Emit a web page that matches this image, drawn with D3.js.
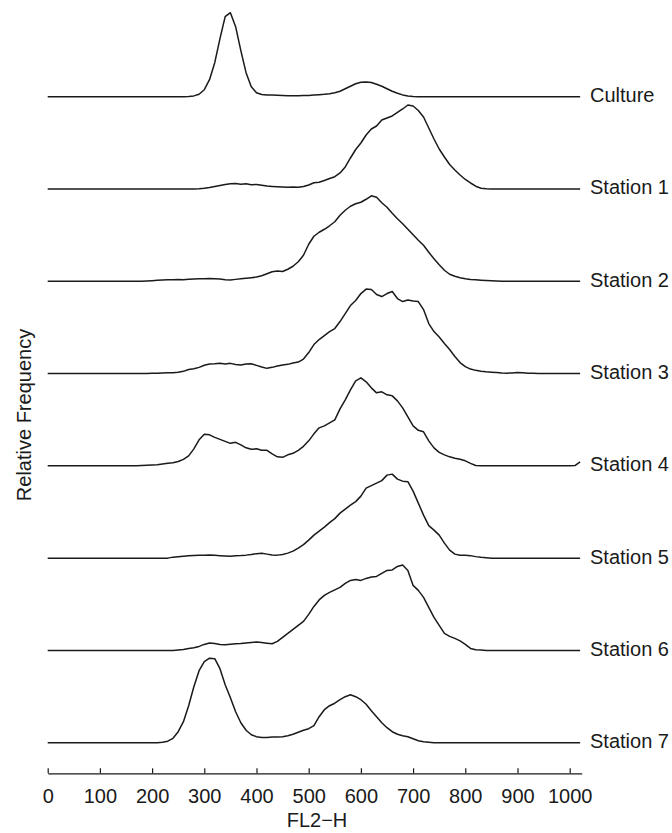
<!DOCTYPE html>
<html>
<head>
<meta charset="utf-8">
<script src="https://cdnjs.cloudflare.com/ajax/libs/d3/7.8.5/d3.min.js"></script>
<style>
  body { margin: 0; background: #fff; }
  svg { display: block; font-family: "Liberation Sans", Arial, Helvetica, sans-serif; }
</style>
</head>
<body>
<svg id="chart" width="672" height="833"></svg>
<script>
// FL2-H channel bins (step 10, 0..1020)
const bins = d3.range(0, 1021, 10);

const seriesNames = ['Culture', 'Station 1', 'Station 2', 'Station 3',
                     'Station 4', 'Station 5', 'Station 6', 'Station 7'];

// relative frequency (arbitrary units), one value per bin
const culture = [
  0,0,0,0,0,0,0,0,0,0, 0,0,0,0,0,0,0,0,0,0,
  0,0,0,0,0,0,0,0.3,0.8,2.5, 7,17,34,58,80,84,70,46,24,10,
  4,2.2,1.8,1.6,1.4,1.2,1.0,1.0,1.0,1.1, 1.3,1.6,2.0,2.4,3.0,4,5.5,8,10.5,13,
  14.5,14.8,14.2,12.5,10.5,8,5.5,3.5,1.8,0.8, 0.3,0,0,0,0,0,0,0,0,0,
  0,0,0,0,0,0,0,0,0,0, 0,0,0,0,0,0,0,0,0,0, 0,0,0
];
const station1 = [
  0,0,0,0,0,0,0,0,0,0, 0,0,0,0,0,0,0,0,0,0,
  0,0,0,0,0,0,0,0,0,0.3, 0.8,1.5,2.5,3.5,4.5,5.2,5.5,4.8,5.2,4.3,
  4.6,3.8,3.0,2.6,2.3,2.0,1.8,1.9,1.7,2.5, 4.0,6.2,6.8,8.5,10.5,12.3,16,22,31,39.5,
  46,54,60,63,69,71,73,76.5,80,84, 83,78.5,72,61,50,40,32,24.5,19,14,
  9.5,6,2.8,0.8,0.3,0,0,0,0,0, 0,0,0,0,0,0,0,0,0,0, 0,0,0
];
const station2 = [
  0,0,0,0,0,0,0,0,0,0, 0,0,0,0,0,0,0,0,0,0.3,
  0.6,1.0,1.2,1.4,1.6,1.8,1.5,1.9,2.2,2.6, 2.4,2.8,2.5,2.2,1.6,1.3,1.9,2.4,3.0,3.6,
  4.2,5.5,7.5,9.5,10.2,9.8,12,15,19.5,26, 37,45,49,52,55.5,59.5,66,71,75,77.5,
  79,82,85.5,84,78.5,74,68,62.5,57.5,52, 46.5,41,36,29,22.5,16.5,11,7,5,3.6,
  2.5,1.8,1.4,1.0,0.7,0.4,0.2,0,0,0, 0,0,0,0,0,0,0,0,0,0, 0,0,0
];
const station3 = [
  0,0,0,0,0,0,0,0,0,0, 0,0,0,0,0,0,0,0,0,0,
  0.2,0.4,0.6,0.8,0.9,1.2,2.2,4,4.8,6.2, 8.3,9.5,9.8,10.4,9.5,10.2,9.0,8.5,9.6,9.8,
  8.2,6.5,5.2,6.2,7.5,8.5,9.2,10.5,11.5,14.5, 21,29,34,38,42,45,52,60,68,73,
  80,84.5,84,79,77,80,82,75,72,73.5, 72.5,72,64,50,42,36.5,30,24,17,11,
  7,4.5,3.2,2.4,1.8,1.4,1.0,0.6,0.4,0.6, 1.0,0.8,0.4,0.2,0,0,0,0,0,0, 0,0,0
];
const station4 = [
  0,0,0,0,0,0,0,0,0,0, 0,0,0,0,0,0,0,0,0.3,0.6,
  0.9,1.2,1.8,2.5,3.0,4.3,6.5,10,17,26, 31.5,31,28.5,26.5,24.5,22.5,23.5,21,18,16.5,
  17,15.5,15.5,12,9,8.5,11,12.5,15.5,19.5, 25,32,38,40,43,46,57,66,76,85,
  88,84,78,73,74,71,70,65,58,49, 40,35.5,34,25,18,13.5,11,9,7.5,6.5,
  5,2.5,0.3,0,0,0,0,0,0,0, 0,0,0,0,0,0,0,0,0,0, 0,0.3,4
];
const station5 = [
  0,0,0,0,0,0,0,0,0,0, 0,0,0,0,0,0,0,0,0,0,
  0,0,0,0,1.0,1.5,2.0,2.4,2.6,2.8, 3.0,3.2,2.8,2.5,2.2,2.0,2.4,2.6,3.0,3.6,
  4.5,4.8,4.0,3.2,3.0,3.6,5.0,7,10,13.5, 18,23,27,31,35.5,39.5,45,49,53,56.5,
  62,70,72.5,75,77.5,83,84,79,77,76.5, 67,55,43,32.5,28,23,15,8,4,2.8,
  3.0,2.5,1.5,0.8,0.4,0,0,0,0,0, 0,0,0,0,0,0,0,0,0,0, 0,0,0
];
const station6 = [
  0,0,0,0,0,0,0,0,0,0, 0,0,0,0,0,0,0,0,0,0,
  0,0,0,0,0,0.5,1.0,1.8,2.6,4.0, 6.0,7.4,6.8,6.0,5.7,6.2,6.6,6.8,7.4,8.0,
  8.4,7.8,7.2,6.7,9,13,17,21,25,29, 36,44,50.5,55,58,60.5,63,67,70,71,
  70,72,73.5,74,77,80,80.5,84,85.5,80, 65,60,53,43,33,25,17,14,12,9.5,
  6,2,0.6,0.3,0,0,0,0,0,0, 0,0,0,0,0,0,0,0,0,0, 0,0,0
];
const station7 = [
  0,0,0,0,0,0,0,0,0,0, 0,0,0,0,0,0,0,0,0,0,
  0,0,0.5,1.5,4.4,11,21,37,56,72, 81,84.5,84,74,58,45,31,20,12.5,8,
  6,5.2,5.3,5.6,5.8,6,7,8.5,10.5,12.5, 14,17,26,33,37,39.5,43,46,48,46,
  43,38.5,32,26,20,15,11,8.5,7,6, 4,2,1,0.5,0,0,0,0,0,0,
  0,0,0,0,0,0,0,0,0,0, 0,0,0,0,0,0,0,0,0,0, 0,0,0
];

const seriesValues = [culture, station1, station2, station3,
                      station4, station5, station6, station7];

const xTicks = d3.range(0, 1001, 100);
const xLabel = 'FL2\u2212H';
const yLabel = 'Relative Frequency';

const svg = d3.select('#chart');
const ink = '#1a1a1a';

const x = d3.scaleLinear().domain([0, 1023]).range([47.7, 581.7]);
const row = d3.scalePoint().domain(seriesNames).range([96.7, 742.7]);
const h = d3.scaleLinear().domain([0, 100]).range([0, 100]);

const line = d3.line()
    .x(d => x(d[0]))
    .y(d => d[1])
    .curve(d3.curveLinear);

seriesNames.forEach((name, i) => {
    const base = row(name);
    const pts = bins.map((b, j) => [Math.min(b, 1023), base - h(seriesValues[i][j])]);

    svg.append('path')
        .attr('d', line(pts))
        .attr('fill', 'none')
        .attr('stroke', ink)
        .attr('stroke-width', 1.5)
        .attr('stroke-linejoin', 'round');

    svg.append('text')
        .attr('x', 590)
        .attr('y', base + 5.5)
        .attr('font-size', 20)
        .attr('fill', ink)
        .text(name);
});

// x axis, ticks pointing up
const axis = d3.axisBottom(x)
    .tickValues(xTicks)
    .tickFormat(d3.format('d'))
    .tickSizeInner(-5)
    .tickSizeOuter(0)
    .tickPadding(16);

const gx = svg.append('g')
    .attr('transform', 'translate(0,773.3)')
    .call(axis);
gx.select('.domain').attr('stroke', ink).attr('stroke-width', 1.3);
gx.selectAll('.tick line').attr('stroke', ink).attr('stroke-width', 1.2);
gx.selectAll('.tick text')
    .attr('font-size', 20)
    .attr('fill', ink)
    .attr('font-family', '"Liberation Sans", Arial, sans-serif');

svg.append('text')
    .attr('x', 317)
    .attr('y', 827)
    .attr('text-anchor', 'middle')
    .attr('font-size', 20)
    .attr('fill', ink)
    .text(xLabel);

svg.append('text')
    .attr('transform', 'translate(30.5,415) rotate(-90)')
    .attr('text-anchor', 'middle')
    .attr('font-size', 20)
    .attr('fill', ink)
    .text(yLabel);
</script>
</body>
</html>
